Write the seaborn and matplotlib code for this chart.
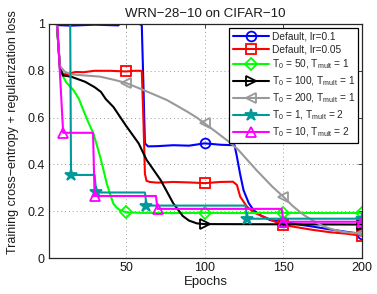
import numpy as np
import matplotlib
matplotlib.use("Agg")
import matplotlib.pyplot as plt
import seaborn as sns
from matplotlib.lines import Line2D

# ---------------- data ----------------
title = "WRN\u221228\u221210 on CIFAR\u221210"
xlabel = "Epochs"
ylabel = "Training cross\u2212entropy + regularization loss"
xticks = [50, 100, 150, 200]
yticks = [0, 0.2, 0.4, 0.6, 0.8, 1]
ytick_labels = ["0", "0.2", "0.4", "0.6", "0.8", "1"]

labels = [
    "Default, lr=0.1",
    "Default, lr=0.05",
    r"$\mathrm{T_0}$ = 50, $\mathrm{T_{mult}}$ = 1",
    r"$\mathrm{T_0}$ = 100, $\mathrm{T_{mult}}$ = 1",
    r"$\mathrm{T_0}$ = 200, $\mathrm{T_{mult}}$ = 1",
    r"$\mathrm{T_0}$ = 1, $\mathrm{T_{mult}}$ = 2",
    r"$\mathrm{T_0}$ = 10, $\mathrm{T_{mult}}$ = 2",
]

blue_x = [1, 5, 7, 15, 30, 45, 50, 60, 61, 62, 64, 70, 80, 90, 100, 110, 119, 120.5,
          122.5, 124.7, 128, 131, 136, 141.7, 150, 160, 169, 180, 190, 200]
blue_y = [1.6, 1.05, 0.995, 0.993, 0.997, 0.994, 1.025, 0.995, 0.75, 0.49, 0.477, 0.478,
          0.482, 0.48, 0.49, 0.484, 0.482, 0.433, 0.36, 0.29, 0.235, 0.205, 0.18, 0.162,
          0.155, 0.143, 0.134, 0.122, 0.112, 0.103]
blue_mk = [50, 100, 150, 200]

red_x = [1, 6, 8, 10, 13, 18, 23, 30, 40, 50, 55, 60, 61, 62, 63, 65, 70, 80, 90, 100,
         110, 118, 120.5, 122.6, 126.8, 131, 137.4, 143, 150, 160, 169, 180, 190, 200]
red_y = [1.7, 1.0, 0.81, 0.785, 0.786, 0.795, 0.794, 0.80, 0.80, 0.797, 0.80, 0.80, 0.6,
         0.36, 0.33, 0.325, 0.322, 0.325, 0.323, 0.32, 0.325, 0.326, 0.312, 0.262, 0.22,
         0.195, 0.177, 0.16, 0.141, 0.13, 0.12, 0.11, 0.104, 0.095]
red_mk = [50, 100, 150, 200]

green_x = [1, 6, 8, 12, 16.5, 20, 22.8, 26, 29.2, 31.5, 33.5, 35.5, 37.7, 40, 41.9, 44,
           46, 50, 60, 80, 100, 120, 150, 175, 200]
green_y = [1.7, 1.0, 0.80, 0.75, 0.718, 0.68, 0.632, 0.58, 0.533, 0.48, 0.433, 0.38,
           0.319, 0.27, 0.233, 0.215, 0.205, 0.195, 0.193, 0.192, 0.193, 0.192, 0.193,
           0.192, 0.193]
green_mk = [50, 100, 150, 200]

black_x = [1, 6, 8, 10, 15, 24, 30, 34, 37, 42, 50, 58, 63, 72, 80, 86, 90, 95, 100, 150, 200]
black_y = [1.7, 1.0, 0.81, 0.78, 0.775, 0.753, 0.73, 0.71, 0.68, 0.645, 0.565, 0.49,
           0.42, 0.333, 0.234, 0.18, 0.16, 0.148, 0.145, 0.144, 0.143]
black_mk = [100, 200]

gray_x = [1, 6, 8, 11, 15, 24, 33.5, 42, 50, 61, 68, 76, 82, 89, 95, 100, 107, 114, 121,
          125, 129, 133, 137, 143, 150, 156, 163, 170, 176, 182, 188, 194, 200]
gray_y = [1.7, 1.0, 0.82, 0.796, 0.785, 0.78, 0.775, 0.762, 0.748, 0.718, 0.698, 0.675,
          0.652, 0.625, 0.60, 0.575, 0.54, 0.504, 0.465, 0.435, 0.405, 0.375, 0.347,
          0.305, 0.262, 0.222, 0.184, 0.155, 0.134, 0.121, 0.112, 0.107, 0.105]
gray_mk = [50, 100, 150, 200]

teal_x = [1, 14, 15, 30, 31, 62, 63, 126, 127, 200]
teal_y = [2.0, 1.6, 0.355, 0.355, 0.28, 0.28, 0.224, 0.224, 0.168, 0.168]
teal_mk = [15, 31, 63, 127, 200]

magenta_x = [1, 10, 29, 30, 69, 70, 149, 150, 200]
magenta_y = [1.65, 0.535, 0.535, 0.265, 0.265, 0.21, 0.21, 0.155, 0.155]
magenta_mk = [10, 30, 70, 150, 200]

# ---------------- styling ----------------
sns.set_theme(style="white")
plt.rcParams["font.family"] = ["Liberation Sans", "DejaVu Sans"]
plt.rcParams["mathtext.fontset"] = "custom"
plt.rcParams["mathtext.rm"] = "Liberation Sans"
plt.rcParams["mathtext.it"] = "Liberation Sans:italic"
plt.rcParams["mathtext.bf"] = "Liberation Sans:bold"

series = [
    (blue_x, blue_y, blue_mk, (0, 0, 1), "o", False),
    (red_x, red_y, red_mk, (1, 0, 0), "s", False),
    (green_x, green_y, green_mk, (0, 1, 0), "D", False),
    (black_x, black_y, black_mk, (0, 0, 0), ">", False),
    (gray_x, gray_y, gray_mk, (0.6, 0.6, 0.6), "<", False),
    (teal_x, teal_y, teal_mk, (0, 0.6, 0.6), "*", True),
    (magenta_x, magenta_y, magenta_mk, (1, 0, 1), "^", False),
]
msizes = {"o": 7, "s": 6.5, "D": 6.5, ">": 7.5, "<": 7.5, "*": 9, "^": 7.5}

fig = plt.figure(figsize=(3.77, 2.94), dpi=100)
ax = fig.add_axes([0.130, 0.1224, 0.830, 0.796])

LW = 1.5
MEW = 1.3
handles = []
for (xs, ys, mk, col, m, filled) in series:
    x = np.asarray(xs, dtype=float)
    y = np.asarray(ys, dtype=float)
    sns.lineplot(x=x, y=y, ax=ax, color=col, linewidth=LW, sort=False,
                 estimator=None, legend=False)
    idx = [int(np.where(x == e)[0][-1]) for e in mk]
    sns.lineplot(x=x[idx], y=y[idx], ax=ax, color=col, linestyle="", marker=m,
                 markersize=msizes[m], markerfacecolor=(col if filled else "none"),
                 markeredgecolor=col, markeredgewidth=MEW, sort=False,
                 estimator=None, legend=False)
    handles.append(Line2D([0], [0], color=col, linewidth=LW, marker=m,
                          markersize=msizes[m],
                          markerfacecolor=(col if filled else "none"),
                          markeredgecolor=col, markeredgewidth=MEW))

ax.set_xlim(1, 200)
ax.set_ylim(0, 1)
ax.set_xticks(xticks)
ax.set_yticks(yticks)
ax.set_yticklabels(ytick_labels)
ax.grid(True, linestyle=(0, (1, 3)), color="#9a9a9a", linewidth=0.7)
for sp in ax.spines.values():
    sp.set_visible(True)
    sp.set_color("#262626")
    sp.set_linewidth(0.9)
ax.tick_params(direction="in", top=True, right=True, length=3, width=0.6,
               labelsize=9, colors="#262626", pad=3)
for lab in ax.get_xticklabels() + ax.get_yticklabels():
    lab.set_color("#1a1a1a")

ax.set_title(title, fontsize=9.5, pad=5, color="#1a1a1a")
ax.set_xlabel(xlabel, fontsize=9.5, labelpad=1, color="#1a1a1a")
ax.set_ylabel(ylabel, fontsize=9, color="#1a1a1a")
ax.yaxis.set_label_coords(-0.095, 0.54)

leg = ax.legend(handles, labels, loc="upper right", fontsize=7.3, frameon=True,
                fancybox=False, edgecolor="black", framealpha=1, facecolor="white",
                handlelength=3.6, handletextpad=0.25, borderpad=0.35,
                labelspacing=0.33, borderaxespad=0.35)
leg.get_frame().set_linewidth(0.9)

fig.savefig("out.png", dpi=100)
